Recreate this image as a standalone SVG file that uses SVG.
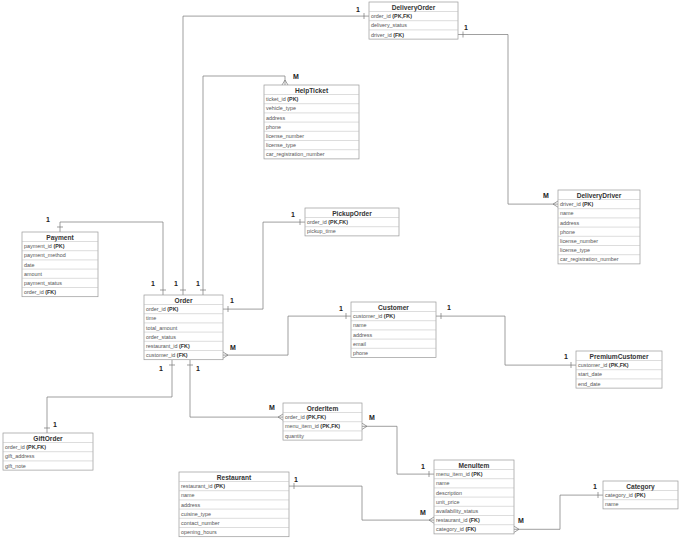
<svg xmlns="http://www.w3.org/2000/svg" width="680" height="539" viewBox="0 0 680 539">
<style>
.box{fill:#fff;stroke:#999;stroke-width:0.7}
.sep{stroke:#bbb;stroke-width:0.5}
.h{font-family:"Liberation Sans",Arial,sans-serif;font-size:6.6px;font-weight:bold;fill:#333;text-anchor:middle}
.f{font-family:"Liberation Sans",Arial,sans-serif;font-size:5.4px;fill:#555}
.f tspan{font-weight:bold;fill:#333}
.c{fill:none;stroke:#777;stroke-width:0.7}
.lb{font-family:"Liberation Sans",Arial,sans-serif;font-size:7px;font-weight:bold;fill:#222;text-anchor:middle}
</style>
<rect width="680" height="539" fill="#fff"/>
<g id="connectors">
<!-- DeliveryOrder - Order -->
<path class="c" d="M369,16.1 H183 V295"/>
<path class="c" d="M364,13 V19 M180,290 H186"/>
<text class="lb" x="358" y="12">1</text><text class="lb" x="176" y="286">1</text>
<!-- Payment - Order -->
<path class="c" d="M60,232 V222 H163 V295"/>
<path class="c" d="M57,227 H63 M160,290 H166"/>
<text class="lb" x="48" y="222">1</text><text class="lb" x="153" y="286">1</text>
<!-- HelpTicket - Order -->
<path class="c" d="M285,85 V76 H203 V295"/>
<path class="c" d="M282,85 L285,80 L288,85 M200,290 H206"/>
<text class="lb" x="296" y="79">M</text><text class="lb" x="198" y="286">1</text>
<!-- DeliveryOrder - DeliveryDriver -->
<path class="c" d="M458,34.5 H508 V204.1 H558"/>
<path class="c" d="M463,31.5 V37.5 M558,201 L553,204.1 L558,207.2"/>
<text class="lb" x="466" y="30">1</text><text class="lb" x="546" y="198">M</text>
<!-- PickupOrder - Order -->
<path class="c" d="M305,222.1 H263 V309.1 H223"/>
<path class="c" d="M300,219 V225 M228,306 V312"/>
<text class="lb" x="293" y="217">1</text><text class="lb" x="232" y="303">1</text>
<!-- Order - Customer -->
<path class="c" d="M223,355.1 H288 V316.1 H351"/>
<path class="c" d="M223,352 L228,355.1 L223,358.2 M346,313 V319"/>
<text class="lb" x="233" y="350">M</text><text class="lb" x="341" y="311">1</text>
<!-- Customer - PremiumCustomer -->
<path class="c" d="M436,316.1 H505 V365.1 H576"/>
<path class="c" d="M441,313 V319 M571,362 V368"/>
<text class="lb" x="449" y="310">1</text><text class="lb" x="566" y="359">1</text>
<!-- Order - GiftOrder -->
<path class="c" d="M172,360 V397 H47 V433"/>
<path class="c" d="M169,365 H175 M44,428 H50"/>
<text class="lb" x="161" y="371">1</text><text class="lb" x="55" y="427">1</text>
<!-- Order - OrderItem -->
<path class="c" d="M190,360 V417.1 H283"/>
<path class="c" d="M187,365 H193 M283,414 L278,417.1 L283,420.2"/>
<text class="lb" x="198" y="371">1</text><text class="lb" x="272" y="410">M</text>
<!-- OrderItem - MenuItem -->
<path class="c" d="M362,426.3 H397 V474.1 H434"/>
<path class="c" d="M362,423.2 L367,426.3 L362,429.4 M429,471 V477"/>
<text class="lb" x="372" y="420">M</text><text class="lb" x="423" y="469">1</text>
<!-- Restaurant - MenuItem -->
<path class="c" d="M289,486.1 H362 V520.1 H434"/>
<path class="c" d="M294,483 V489 M434,517 L429,520.1 L434,523.2"/>
<text class="lb" x="296" y="482">1</text><text class="lb" x="423" y="515">M</text>
<!-- MenuItem - Category -->
<path class="c" d="M514,529.3 H560 V495.1 H603"/>
<path class="c" d="M514,526.2 L519,529.3 L514,532.4 M598,492 V498"/>
<text class="lb" x="521" y="523">M</text><text class="lb" x="595" y="489">1</text>
</g>
<g id="DeliveryOrder">
<rect class="box" x="369" y="2" width="89" height="37.1"/>
<text class="h" x="413.5" y="9.5">DeliveryOrder</text>
<path class="sep" d="M369,11.5 H458 M369,20.7 H458 M369,29.9 H458"/>
<text class="f" x="371" y="18.1">order_id <tspan>(PK,FK)</tspan></text>
<text class="f" x="371" y="27.3">delivery_status</text>
<text class="f" x="371" y="36.5">driver_id <tspan>(FK)</tspan></text>
</g>
<g id="HelpTicket">
<rect class="box" x="264" y="85" width="95" height="73.9"/>
<text class="h" x="311.5" y="92.5">HelpTicket</text>
<path class="sep" d="M264,94.5 H359 M264,103.7 H359 M264,112.9 H359 M264,122.1 H359 M264,131.3 H359 M264,140.5 H359 M264,149.7 H359"/>
<text class="f" x="266" y="101.1">ticket_id <tspan>(PK)</tspan></text>
<text class="f" x="266" y="110.3">vehicle_type</text>
<text class="f" x="266" y="119.5">address</text>
<text class="f" x="266" y="128.7">phone</text>
<text class="f" x="266" y="137.9">license_number</text>
<text class="f" x="266" y="147.1">license_type</text>
<text class="f" x="266" y="156.3">car_registration_number</text>
</g>
<g id="DeliveryDriver">
<rect class="box" x="558" y="190" width="82" height="73.9"/>
<text class="h" x="599" y="197.5">DeliveryDriver</text>
<path class="sep" d="M558,199.5 H640 M558,208.7 H640 M558,217.9 H640 M558,227.1 H640 M558,236.3 H640 M558,245.5 H640 M558,254.7 H640"/>
<text class="f" x="560" y="206.1">driver_id <tspan>(PK)</tspan></text>
<text class="f" x="560" y="215.3">name</text>
<text class="f" x="560" y="224.5">address</text>
<text class="f" x="560" y="233.7">phone</text>
<text class="f" x="560" y="242.9">license_number</text>
<text class="f" x="560" y="252.1">license_type</text>
<text class="f" x="560" y="261.3">car_registration_number</text>
</g>
<g id="Payment">
<rect class="box" x="22" y="232" width="76" height="64.7"/>
<text class="h" x="60" y="239.5">Payment</text>
<path class="sep" d="M22,241.5 H98 M22,250.7 H98 M22,259.9 H98 M22,269.1 H98 M22,278.3 H98 M22,287.5 H98"/>
<text class="f" x="24" y="248.1">payment_id <tspan>(PK)</tspan></text>
<text class="f" x="24" y="257.3">payment_method</text>
<text class="f" x="24" y="266.5">date</text>
<text class="f" x="24" y="275.7">amount</text>
<text class="f" x="24" y="284.9">payment_status</text>
<text class="f" x="24" y="294.1">order_id <tspan>(FK)</tspan></text>
</g>
<g id="PickupOrder">
<rect class="box" x="305" y="208" width="94" height="27.9"/>
<text class="h" x="352" y="215.5">PickupOrder</text>
<path class="sep" d="M305,217.5 H399 M305,226.7 H399"/>
<text class="f" x="307" y="224.1">order_id <tspan>(PK,FK)</tspan></text>
<text class="f" x="307" y="233.3">pickup_time</text>
</g>
<g id="Order">
<rect class="box" x="144" y="295" width="79" height="64.7"/>
<text class="h" x="183.5" y="302.5">Order</text>
<path class="sep" d="M144,304.5 H223 M144,313.7 H223 M144,322.9 H223 M144,332.1 H223 M144,341.3 H223 M144,350.5 H223"/>
<text class="f" x="146" y="311.1">order_id <tspan>(PK)</tspan></text>
<text class="f" x="146" y="320.3">time</text>
<text class="f" x="146" y="329.5">total_amount</text>
<text class="f" x="146" y="338.7">order_status</text>
<text class="f" x="146" y="347.9">restaurant_id <tspan>(FK)</tspan></text>
<text class="f" x="146" y="357.1">customer_id <tspan>(FK)</tspan></text>
</g>
<g id="Customer">
<rect class="box" x="351" y="302" width="85" height="55.5"/>
<text class="h" x="393.5" y="309.5">Customer</text>
<path class="sep" d="M351,311.5 H436 M351,320.7 H436 M351,329.9 H436 M351,339.1 H436 M351,348.3 H436"/>
<text class="f" x="353" y="318.1">customer_id <tspan>(PK)</tspan></text>
<text class="f" x="353" y="327.3">name</text>
<text class="f" x="353" y="336.5">address</text>
<text class="f" x="353" y="345.7">email</text>
<text class="f" x="353" y="354.9">phone</text>
</g>
<g id="PremiumCustomer">
<rect class="box" x="576" y="351" width="86" height="37.1"/>
<text class="h" x="619" y="358.5">PremiumCustomer</text>
<path class="sep" d="M576,360.5 H662 M576,369.7 H662 M576,378.9 H662"/>
<text class="f" x="578" y="367.1">customer_id <tspan>(PK,FK)</tspan></text>
<text class="f" x="578" y="376.3">start_date</text>
<text class="f" x="578" y="385.5">end_date</text>
</g>
<g id="GiftOrder">
<rect class="box" x="3" y="433" width="90" height="37.1"/>
<text class="h" x="48" y="440.5">GiftOrder</text>
<path class="sep" d="M3,442.5 H93 M3,451.7 H93 M3,460.9 H93"/>
<text class="f" x="5" y="449.1">order_id <tspan>(PK,FK)</tspan></text>
<text class="f" x="5" y="458.3">gift_address</text>
<text class="f" x="5" y="467.5">gift_note</text>
</g>
<g id="OrderItem">
<rect class="box" x="283" y="403" width="79" height="37.1"/>
<text class="h" x="322.5" y="410.5">OrderItem</text>
<path class="sep" d="M283,412.5 H362 M283,421.7 H362 M283,430.9 H362"/>
<text class="f" x="285" y="419.1">order_id <tspan>(PK,FK)</tspan></text>
<text class="f" x="285" y="428.3">menu_item_id <tspan>(PK,FK)</tspan></text>
<text class="f" x="285" y="437.5">quantity</text>
</g>
<g id="Restaurant">
<rect class="box" x="179" y="472" width="110" height="64.7"/>
<text class="h" x="234" y="479.5">Restaurant</text>
<path class="sep" d="M179,481.5 H289 M179,490.7 H289 M179,499.9 H289 M179,509.1 H289 M179,518.3 H289 M179,527.5 H289"/>
<text class="f" x="181" y="488.1">restaurant_id <tspan>(PK)</tspan></text>
<text class="f" x="181" y="497.3">name</text>
<text class="f" x="181" y="506.5">address</text>
<text class="f" x="181" y="515.7">cuisine_type</text>
<text class="f" x="181" y="524.9">contact_number</text>
<text class="f" x="181" y="534.1">opening_hours</text>
</g>
<g id="MenuItem">
<rect class="box" x="434" y="460" width="80" height="73.9"/>
<text class="h" x="474" y="467.5">MenuItem</text>
<path class="sep" d="M434,469.5 H514 M434,478.7 H514 M434,487.9 H514 M434,497.1 H514 M434,506.3 H514 M434,515.5 H514 M434,524.7 H514"/>
<text class="f" x="436" y="476.1">menu_item_id <tspan>(PK)</tspan></text>
<text class="f" x="436" y="485.3">name</text>
<text class="f" x="436" y="494.5">description</text>
<text class="f" x="436" y="503.7">unit_price</text>
<text class="f" x="436" y="512.9">availability_status</text>
<text class="f" x="436" y="522.1">restaurant_id <tspan>(FK)</tspan></text>
<text class="f" x="436" y="531.3">category_id <tspan>(FK)</tspan></text>
</g>
<g id="Category">
<rect class="box" x="603" y="481" width="75" height="27.9"/>
<text class="h" x="640.5" y="488.5">Category</text>
<path class="sep" d="M603,490.5 H678 M603,499.7 H678"/>
<text class="f" x="605" y="497.1">category_id <tspan>(PK)</tspan></text>
<text class="f" x="605" y="506.3">name</text>
</g>
</svg>
